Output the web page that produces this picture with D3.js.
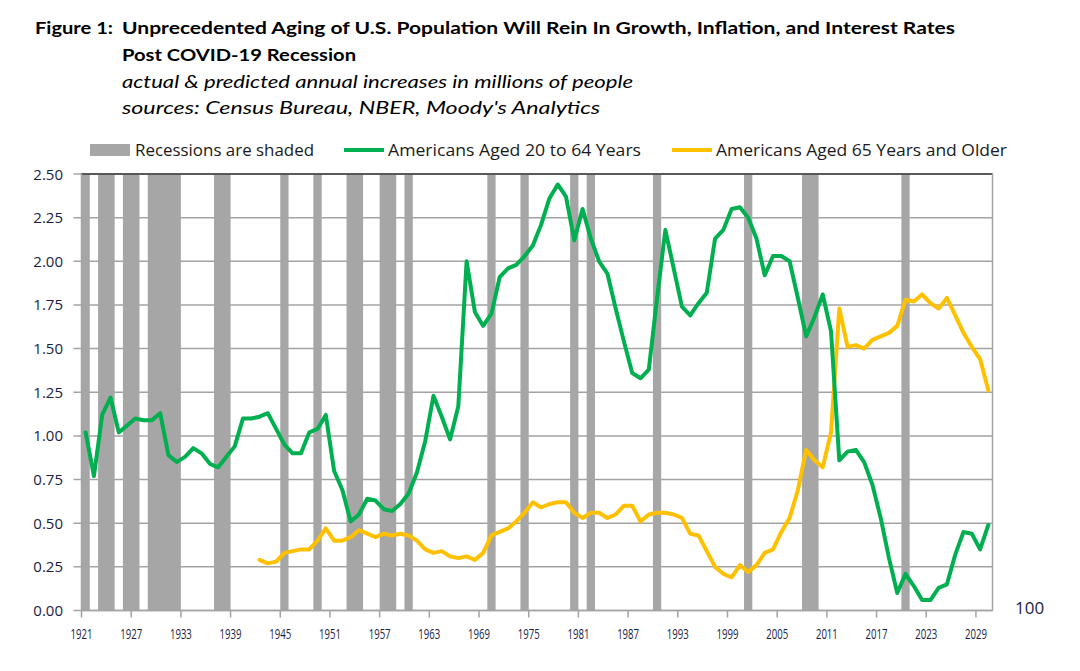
<!DOCTYPE html>
<html><head><meta charset="utf-8">
<script src="https://cdn.jsdelivr.net/npm/d3@7"></script>
<style>html,body{margin:0;padding:0;background:#fff;}svg{display:block;}</style>
</head><body>
<svg id="chart" width="1080" height="671"></svg>
<script>
// ---------- data ----------
const firstYear = 1921, lastYear = 2030;
const years = d3.range(firstYear, lastYear + 1);
const tickYears = [1921,1927,1933,1939,1945,1951,1957,1963,1969,1975,1981,1987,1993,1999,2005,2011,2017,2023,2029];
const yTicks = [0,0.25,0.5,0.75,1.0,1.25,1.5,1.75,2.0,2.25,2.5];
const recessionYears = [1921,1923,1924,1926,1927,1929,1930,1931,1932,1937,1938,1945,1949,1953,1954,1957,1958,1960,1970,1974,1980,1982,1990,2001,2008,2009,2020];
const aged20to64 = [
 1.02,0.77,1.12,1.22,1.02,1.06,1.10,1.09,1.09,1.13,
 0.89,0.85,0.88,0.93,0.90,0.84,0.82,0.88,0.94,1.10,
 1.10,1.11,1.13,1.04,0.95,0.90,0.90,1.02,1.04,1.12,
 0.80,0.69,0.51,0.55,0.64,0.63,0.58,0.57,0.61,0.67,
 0.79,0.97,1.23,1.11,0.98,1.17,2.00,1.71,1.63,1.70,
 1.91,1.96,1.98,2.03,2.09,2.21,2.36,2.44,2.37,2.12,
 2.30,2.13,2.00,1.93,1.73,1.54,1.36,1.33,1.38,1.79,
 2.18,1.96,1.74,1.69,1.76,1.82,2.13,2.18,2.30,2.31,
 2.25,2.13,1.92,2.03,2.03,2.00,1.79,1.57,1.68,1.81,
 1.60,0.86,0.91,0.92,0.85,0.72,0.53,0.30,0.10,0.21,
 0.14,0.06,0.06,0.13,0.15,0.32,0.45,0.44,0.35,0.49
];
const olderStartYear = 1942;
const aged65plus = [
 0.29,0.27,0.28,0.33,0.34,0.35,0.35,0.40,0.47,
 0.40,0.40,0.42,0.46,0.44,0.42,0.44,0.43,0.44,0.43,
 0.40,0.35,0.33,0.34,0.31,0.30,0.31,0.29,0.33,0.43,
 0.45,0.47,0.51,0.56,0.62,0.59,0.61,0.62,0.62,0.56,
 0.53,0.56,0.56,0.53,0.55,0.60,0.60,0.51,0.55,0.56,
 0.56,0.55,0.53,0.44,0.43,0.34,0.25,0.21,0.19,0.26,
 0.22,0.26,0.33,0.35,0.45,0.53,0.69,0.92,0.86,0.82,
 1.02,1.73,1.51,1.52,1.50,1.55,1.57,1.59,1.63,1.78,
 1.77,1.81,1.76,1.73,1.79,1.69,1.59,1.51,1.44,1.26
];
const figureLabel = "Figure 1:";
const titleLines = ["Unprecedented Aging of U.S. Population Will Rein In Growth, Inflation, and Interest Rates","Post COVID-19 Recession"];
const subtitleLines = ["actual & predicted annual increases in millions of people","sources: Census Bureau, NBER, Moody's Analytics"];
const legendLabels = ["Recessions are shaded","Americans Aged 20 to 64 Years","Americans Aged 65 Years and Older"];

// ---------- layout ----------
const L = 81.5, R = 992.5, T = 174, B = 610.5;
const GREEN = "#00b050", GOLD = "#ffc000", BAND = "#a6a6a6", GRID = "#a3a3a3";
const svg = d3.select("#chart");

const x = d3.scaleBand().domain(years).range([L, R]).padding(0);
const bw = x.bandwidth();
const cx = yr => x(yr) + bw / 2;
const y = d3.scaleLinear().domain([0, 2.5]).range([B, T]);

// group consecutive recession years into spans
const spans = [];
recessionYears.forEach(yr => {
  const last = spans[spans.length - 1];
  if (last && yr === last.end + 1) last.end = yr; else spans.push({start: yr, end: yr});
});

// title
const tg = svg.append("g").attr("fill", "#000").attr("font-family", "Lato, 'Open Sans', sans-serif").attr("font-weight", "bold").attr("font-size", 17.5);
tg.append("text").attr("x", 35).attr("y", 34).attr("textLength", 78).attr("lengthAdjust", "spacingAndGlyphs").text(figureLabel);
tg.append("text").attr("x", 122).attr("y", 34).attr("textLength", 833).attr("lengthAdjust", "spacingAndGlyphs").text(titleLines[0]);
tg.append("text").attr("x", 122).attr("y", 61).attr("textLength", 234).attr("lengthAdjust", "spacingAndGlyphs").text(titleLines[1]);
const sg = svg.append("g").attr("fill", "#000").attr("font-family", "Lato, 'Open Sans', sans-serif").attr("font-style", "italic").attr("font-size", 17.5);
sg.append("text").attr("x", 122).attr("y", 88).attr("textLength", 511).attr("lengthAdjust", "spacingAndGlyphs").text(subtitleLines[0]);
sg.append("text").attr("x", 122).attr("y", 114).attr("textLength", 478).attr("lengthAdjust", "spacingAndGlyphs").text(subtitleLines[1]);

// legend
const lg = svg.append("g").attr("font-family", "'Open Sans', sans-serif").attr("font-size", 17).attr("fill", "#1a1a1a");
lg.append("rect").attr("x", 90).attr("y", 144).attr("width", 40).attr("height", 12).attr("fill", BAND);
lg.append("text").attr("x", 135).attr("y", 156).attr("textLength", 179).attr("lengthAdjust", "spacingAndGlyphs").text(legendLabels[0]);
lg.append("line").attr("x1", 344).attr("x2", 384).attr("y1", 150).attr("y2", 150).attr("stroke", GREEN).attr("stroke-width", 4);
lg.append("text").attr("x", 388).attr("y", 156).attr("textLength", 253).attr("lengthAdjust", "spacingAndGlyphs").text(legendLabels[1]);
lg.append("line").attr("x1", 672).attr("x2", 712).attr("y1", 150).attr("y2", 150).attr("stroke", GOLD).attr("stroke-width", 4);
lg.append("text").attr("x", 716).attr("y", 156).attr("textLength", 291).attr("lengthAdjust", "spacingAndGlyphs").text(legendLabels[2]);

// gridlines
svg.append("g").selectAll("line").data(yTicks).join("line")
  .attr("x1", L - 8).attr("x2", R).attr("y1", d => y(d)).attr("y2", d => y(d))
  .attr("stroke", GRID).attr("stroke-width", 1.5);

// recession bands
svg.append("g").selectAll("rect").data(spans).join("rect")
  .attr("x", d => x(d.start)).attr("width", d => x(d.end) + bw - x(d.start)).attr("y", T).attr("height", B - T)
  .attr("fill", BAND);

// borders
svg.append("line").attr("x1", L).attr("x2", R).attr("y1", T).attr("y2", T).attr("stroke", "#3a3a3a").attr("stroke-width", 1.5);
svg.append("line").attr("x1", R).attr("x2", R).attr("y1", T).attr("y2", B).attr("stroke", GRID).attr("stroke-width", 1.5);
svg.append("line").attr("x1", L).attr("x2", L).attr("y1", T).attr("y2", B).attr("stroke", GRID).attr("stroke-width", 1.5);

// y axis labels
svg.append("g").selectAll("text").data(yTicks).join("text")
  .attr("x", 63).attr("y", d => y(d) + 5.5).attr("text-anchor", "end")
  .attr("font-family", "'Open Sans', sans-serif").attr("font-size", 15).attr("fill", "#1b1d45")
  .text(d => d3.format(".2f")(d));

// x axis
const xAxis = svg.append("g");
xAxis.append("line").attr("x1", L).attr("x2", R).attr("y1", B).attr("y2", B).attr("stroke", GRID).attr("stroke-width", 1.5);
xAxis.selectAll("line.tick").data(tickYears).join("line").attr("class", "tick")
  .attr("x1", d => x(d)).attr("x2", d => x(d)).attr("y1", B).attr("y2", B + 7)
  .attr("stroke", GRID).attr("stroke-width", 1.5);
xAxis.selectAll("text").data(tickYears).join("text")
  .attr("transform", d => `translate(${x(d)},639) scale(0.64,1)`)
  .attr("text-anchor", "middle")
  .attr("font-family", "'Open Sans', sans-serif").attr("font-size", 15).attr("fill", "#1b1d45")
  .text(d => d);

// lines
const line = d3.line().x(d => cx(d[0])).y(d => y(d[1]));
const greenPts = years.map((yr, i) => [yr, aged20to64[i]]);
const goldPts = aged65plus.map((v, i) => [olderStartYear + i, v]);
svg.append("path").datum(goldPts).attr("d", line).attr("fill", "none").attr("stroke", GOLD).attr("stroke-width", 4).attr("stroke-linejoin", "round").attr("stroke-linecap", "round");
svg.append("path").datum(greenPts).attr("d", line).attr("fill", "none").attr("stroke", GREEN).attr("stroke-width", 4).attr("stroke-linejoin", "round").attr("stroke-linecap", "round");

// stray label
svg.append("text").attr("x", 1015).attr("y", 614).attr("font-family", "'Open Sans', sans-serif").attr("font-size", 17).attr("fill", "#1b1d45").text("100");
</script>
</body></html>
